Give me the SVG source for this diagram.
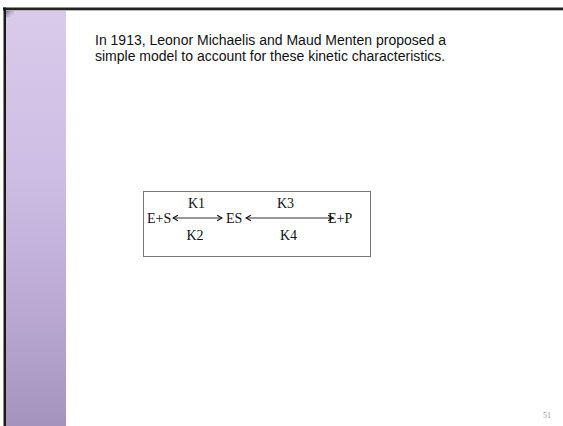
<svg xmlns="http://www.w3.org/2000/svg" width="563" height="426" viewBox="0 0 563 426">
<defs>
<linearGradient id="band" x1="0" y1="0" x2="0" y2="1">
<stop offset="0" stop-color="#d9cbeb"/>
<stop offset="0.4" stop-color="#cdbde4"/>
<stop offset="0.7" stop-color="#bcaad5"/>
<stop offset="1" stop-color="#a494bd"/>
</linearGradient>
<linearGradient id="corner" x1="0" y1="0" x2="1" y2="1">
<stop offset="0" stop-color="#6a5a80"/>
<stop offset="1" stop-color="#d9cbeb" stop-opacity="0"/>
</linearGradient>
<marker id="head" viewBox="0 0 10 10" refX="9" refY="5" markerWidth="7" markerHeight="7" orient="auto-start-reverse" markerUnits="userSpaceOnUse">
<path d="M2,1 L9,5 L2,9" fill="none" stroke="#111" stroke-width="1.6"/>
</marker>
<style>
.sans{font-family:"Liberation Sans",Arial,sans-serif;font-size:14px;fill:#111}
.serif{font-family:"Liberation Serif","Times New Roman",serif;font-size:14px;fill:#111}
.num{font-family:"Liberation Serif","Times New Roman",serif;font-size:8px;fill:#999}
.conn{stroke:#333;stroke-width:1;fill:none}
</style>
</defs>
<rect width="563" height="426" fill="#fff"/>
<rect x="6" y="9.5" width="60" height="416.5" fill="url(#band)"/>
<rect x="6" y="9.5" width="8" height="8" fill="url(#corner)"/>
<rect x="3" y="7.5" width="560" height="2.5" fill="#222"/>
<rect x="3" y="10" width="560" height="0.8" fill="#aaa"/>
<rect x="3.5" y="7.5" width="2.5" height="418.5" fill="#1a1a1a"/>
<g id="heading">
<text class="sans" x="95" y="45">In 1913, Leonor Michaelis and Maud Menten proposed a</text>
<text class="sans" x="95" y="60.7">simple model to account for these kinetic characteristics.</text>
</g>
<g id="box">
<rect x="143.5" y="191.5" width="227" height="65" fill="#fff" stroke="#777" stroke-width="1"/>
</g>
<g id="connectors">
<line class="conn" x1="173" y1="218" x2="222" y2="218" marker-start="url(#head)" marker-end="url(#head)"/>
<line class="conn" x1="246" y1="218" x2="333" y2="218" marker-start="url(#head)" marker-end="url(#head)"/>
</g>
<g id="node-ES-left"><text class="serif" x="147" y="222.5">E+S</text></g>
<g id="node-ES"><text class="serif" x="226" y="222.5">ES</text></g>
<g id="node-EP"><text class="serif" x="328" y="222.5">E+P</text></g>
<g id="label-K1"><text class="serif" x="188" y="207.5">K1</text></g>
<g id="label-K2"><text class="serif" x="186.5" y="240">K2</text></g>
<g id="label-K3"><text class="serif" x="277" y="207.5">K3</text></g>
<g id="label-K4"><text class="serif" x="280" y="240">K4</text></g>
<g id="slide-number"><text class="num" x="543" y="418">51</text></g>
</svg>
